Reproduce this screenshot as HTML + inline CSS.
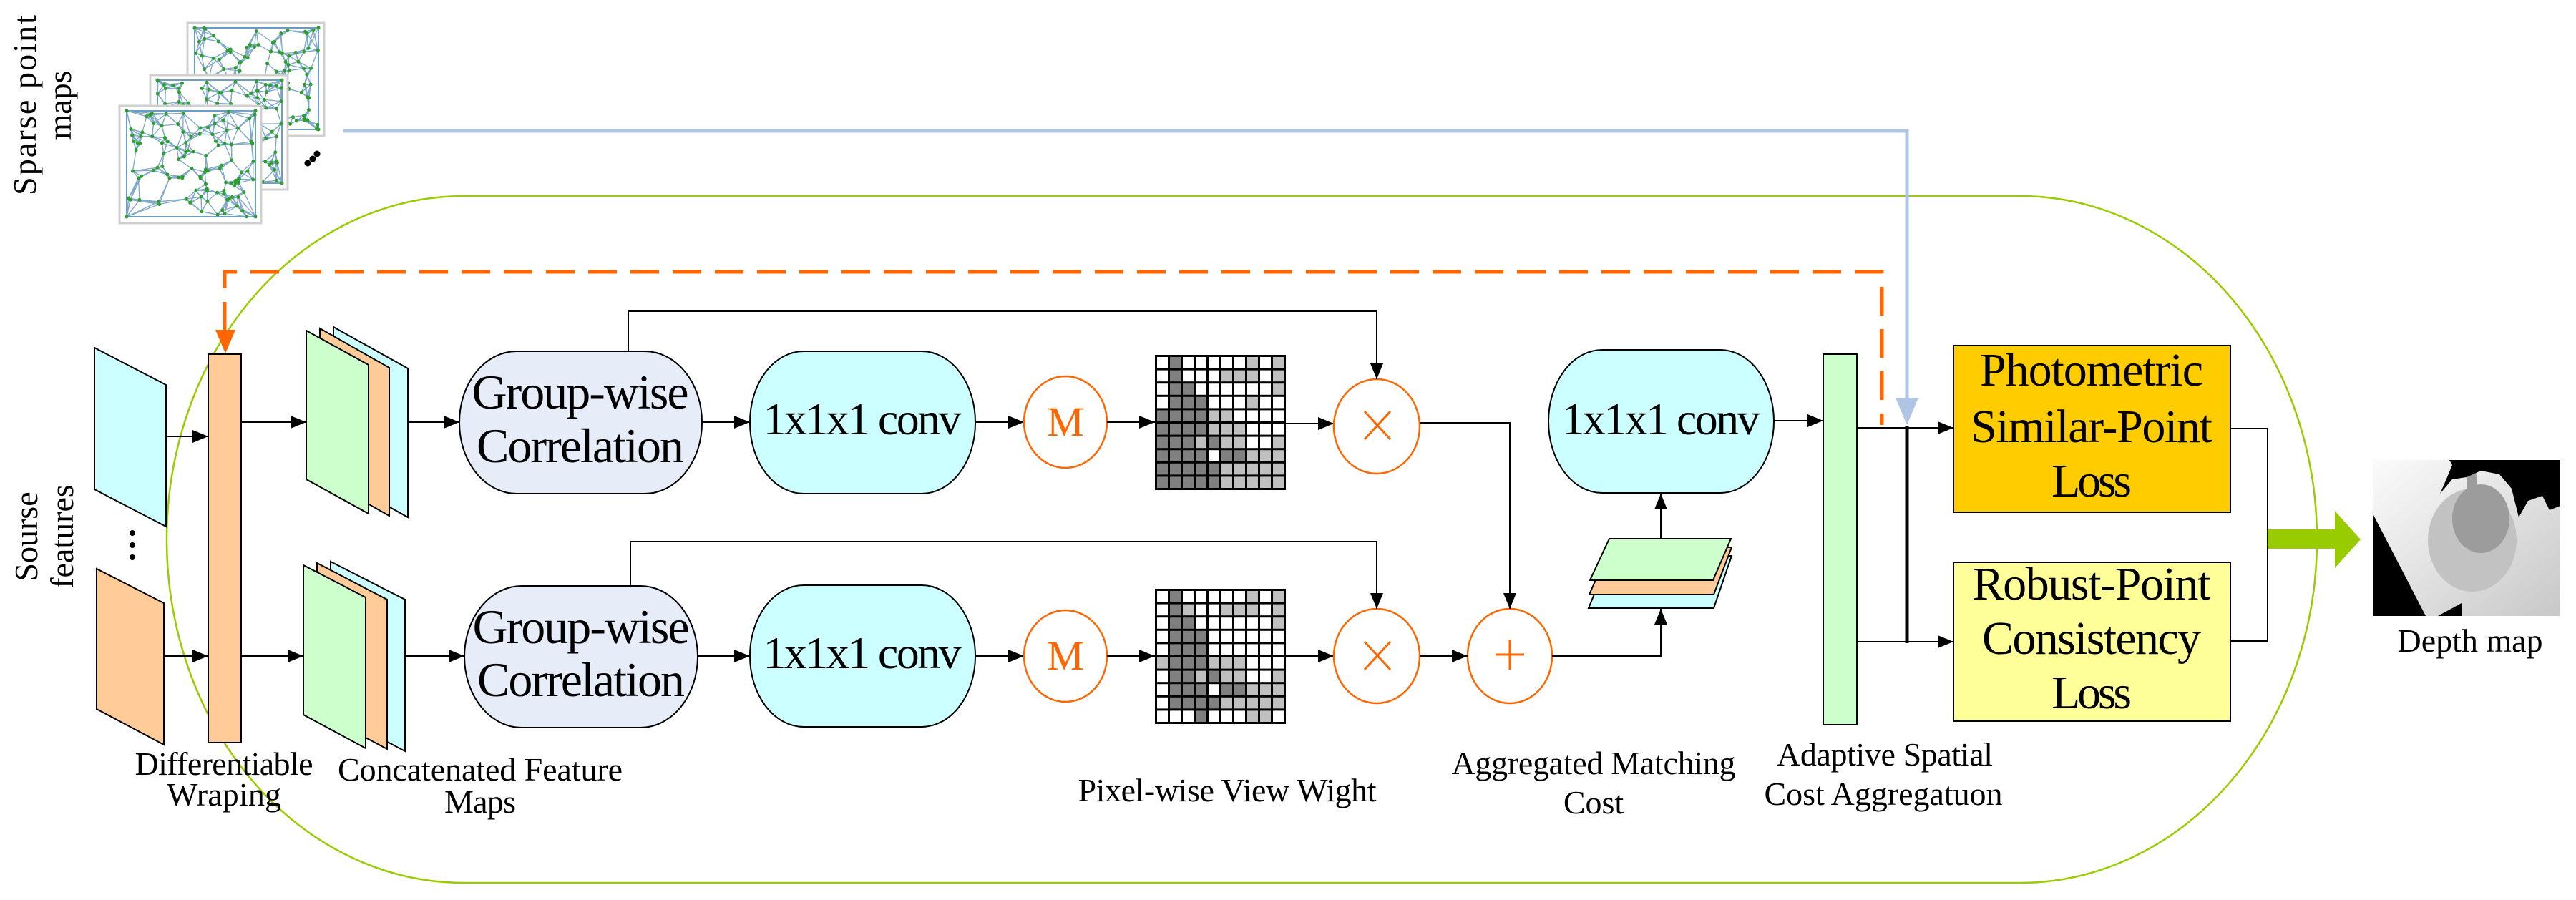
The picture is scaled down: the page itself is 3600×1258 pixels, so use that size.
<!DOCTYPE html>
<html><head><meta charset="utf-8"><style>
html,body{margin:0;padding:0;background:#fff;}
svg{display:block;font-family:"Liberation Serif","DejaVu Serif",serif;}
svg text{font-family:"Liberation Serif","DejaVu Serif",serif;fill:#000;}
</style></head><body>
<svg id="s" width="3600" height="1258" viewBox="0 0 3600 1258" xmlns="http://www.w3.org/2000/svg" font-family="Liberation Serif, DejaVu Serif, serif">
<defs>
<marker id="ar" markerWidth="22" markerHeight="18" refX="22" refY="9" orient="auto" markerUnits="userSpaceOnUse"><path d="M0,0 L22,9 L0,18 z" fill="#000"/></marker>
<linearGradient id="dg" x1="0" y1="0" x2="1" y2="1"><stop offset="0" stop-color="#fbfbfb"/><stop offset="1" stop-color="#c8c8c8"/></linearGradient>
</defs>

<rect x="233" y="274" width="3005" height="960" rx="415" ry="480" fill="none" stroke="#99cc00" stroke-width="2.5"/>

<g id="pm"></g>
<circle cx="430" cy="228" r="4.5" fill="#000"/><circle cx="437" cy="222" r="4.5" fill="#000"/><circle cx="443" cy="215" r="4.5" fill="#000"/>

<text transform="translate(50,147) rotate(-90)" font-size="46" text-anchor="middle" textLength="252">Sparse point</text>
<text transform="translate(99,147) rotate(-90)" font-size="46" text-anchor="middle">maps</text>
<text transform="translate(52,750) rotate(-90)" font-size="46" text-anchor="middle">Sourse</text>
<text transform="translate(102,750) rotate(-90)" font-size="46" text-anchor="middle">features</text>

<polyline points="479,183 2665,183 2665,560" fill="none" stroke="#b0c4e4" stroke-width="5"/>
<path d="M2649,556 L2681,556 L2665,594 z" fill="#b0c4e4"/>

<polyline points="314,462 314,380 2630,380 2630,594" fill="none" stroke="#ff6600" stroke-width="5" stroke-dasharray="40,19"/>
<path d="M301,461 L329,461 L315,494 z" fill="#ff6600"/>

<polygon points="132,486 232,538 232,736 132,684" fill="#ccffff" stroke="#000" stroke-width="2"/>
<polygon points="135,795 229,843 229,1041 135,991" fill="#ffcc99" stroke="#000" stroke-width="2"/>
<circle cx="185" cy="745" r="4" fill="#000"/><circle cx="185" cy="762" r="4" fill="#000"/><circle cx="185" cy="779" r="4" fill="#000"/>

<rect x="291" y="495" width="46" height="543" fill="#ffcc99" stroke="#000" stroke-width="2"/>
<line x1="232" y1="610" x2="291" y2="610" stroke="#000" stroke-width="2" marker-end="url(#ar)"/>
<line x1="229" y1="917" x2="291" y2="917" stroke="#000" stroke-width="2" marker-end="url(#ar)"/>
<line x1="337" y1="590" x2="428" y2="590" stroke="#000" stroke-width="2" marker-end="url(#ar)"/>
<line x1="337" y1="917" x2="424" y2="917" stroke="#000" stroke-width="2" marker-end="url(#ar)"/>

<g stroke="#000" stroke-width="2">
<polygon points="466,457 570,515 570,723 466,665" fill="#ccffff"/>
<polygon points="447,459 544,514 544,721 447,666" fill="#ffcc99"/>
<polygon points="428,462 515,510 515,718 428,670" fill="#ccffcc"/>
<polygon points="462,785 566,838 566,1050 462,995" fill="#ccffff"/>
<polygon points="443,787 541,838 541,1047 443,995" fill="#ffcc99"/>
<polygon points="424,790 511,835 511,1046 424,999" fill="#ccffcc"/>
</g>
<line x1="570" y1="590" x2="642" y2="590" stroke="#000" stroke-width="2" marker-end="url(#ar)"/>
<line x1="566" y1="917" x2="649" y2="917" stroke="#000" stroke-width="2" marker-end="url(#ar)"/>

<rect x="642" y="491" width="339" height="199" rx="80" ry="99" fill="#e6edf8" stroke="#000" stroke-width="2"/>
<rect x="649" y="819" width="326" height="198" rx="80" ry="99" fill="#e6edf8" stroke="#000" stroke-width="2"/>
<text x="811" y="571" font-size="68" text-anchor="middle" textLength="303">Group-wise</text>
<text x="811" y="646" font-size="68" text-anchor="middle" textLength="290">Correlation</text>
<text x="812" y="899" font-size="68" text-anchor="middle" textLength="303">Group-wise</text>
<text x="812" y="973" font-size="68" text-anchor="middle" textLength="290">Correlation</text>

<line x1="981" y1="590" x2="1048" y2="590" stroke="#000" stroke-width="2" marker-end="url(#ar)"/>
<line x1="975" y1="917" x2="1048" y2="917" stroke="#000" stroke-width="2" marker-end="url(#ar)"/>

<rect x="1048" y="491" width="315" height="199" rx="75" ry="99" fill="#ccffff" stroke="#000" stroke-width="2"/>
<rect x="1048" y="818" width="315" height="198" rx="75" ry="99" fill="#ccffff" stroke="#000" stroke-width="2"/>
<text x="1205" y="607" font-size="64" text-anchor="middle" textLength="277">1x1x1 conv</text>
<text x="1205" y="934" font-size="64" text-anchor="middle" textLength="277">1x1x1 conv</text>
<rect x="2164" y="489" width="315" height="200" rx="75" ry="100" fill="#ccffff" stroke="#000" stroke-width="2"/>
<text x="2321" y="607" font-size="64" text-anchor="middle" textLength="277">1x1x1 conv</text>

<line x1="1363" y1="590" x2="1431" y2="590" stroke="#000" stroke-width="2" marker-end="url(#ar)"/>
<line x1="1363" y1="917" x2="1431" y2="917" stroke="#000" stroke-width="2" marker-end="url(#ar)"/>
<ellipse cx="1489" cy="590" rx="58" ry="64" fill="#fff" stroke="#ff6600" stroke-width="2.5"/>
<ellipse cx="1489" cy="917" rx="58" ry="64" fill="#fff" stroke="#ff6600" stroke-width="2.5"/>
<text x="1489" y="609" font-size="58" text-anchor="middle" style="fill:#ff6600">M</text>
<text x="1489" y="936" font-size="58" text-anchor="middle" style="fill:#ff6600">M</text>
<line x1="1547" y1="590" x2="1614" y2="590" stroke="#000" stroke-width="2" marker-end="url(#ar)"/>
<line x1="1547" y1="917" x2="1614" y2="917" stroke="#000" stroke-width="2" marker-end="url(#ar)"/>

<g id="grids"></g>
<line x1="1797" y1="592" x2="1864" y2="592" stroke="#000" stroke-width="2" marker-end="url(#ar)"/>
<line x1="1797" y1="917" x2="1864" y2="917" stroke="#000" stroke-width="2" marker-end="url(#ar)"/>

<ellipse cx="1924" cy="596" rx="60" ry="66" fill="#fff" stroke="#ff6600" stroke-width="2.5"/>
<ellipse cx="1924" cy="917" rx="60" ry="66" fill="#fff" stroke="#ff6600" stroke-width="2.5"/>
<g stroke="#ff6600" stroke-width="3">
<line x1="1907" y1="575" x2="1943" y2="614"/><line x1="1943" y1="575" x2="1907" y2="614"/>
<line x1="1907" y1="897" x2="1943" y2="936"/><line x1="1943" y1="897" x2="1907" y2="936"/>
</g>
<polyline points="878,491 878,435 1924,435 1924,530" fill="none" stroke="#000" stroke-width="2" marker-end="url(#ar)"/>
<polyline points="881,819 881,757 1924,757 1924,851" fill="none" stroke="#000" stroke-width="2" marker-end="url(#ar)"/>

<ellipse cx="2110" cy="917" rx="59" ry="66" fill="#fff" stroke="#ff6600" stroke-width="2.5"/>
<g stroke="#ff6600" stroke-width="3"><line x1="2090" y1="915" x2="2130" y2="915"/><line x1="2110" y1="894" x2="2110" y2="936"/></g>
<polyline points="1984,591 2110,591 2110,851" fill="none" stroke="#000" stroke-width="2" marker-end="url(#ar)"/>
<line x1="1984" y1="917" x2="2051" y2="917" stroke="#000" stroke-width="2" marker-end="url(#ar)"/>
<polyline points="2169,917 2321,917 2321,851" fill="none" stroke="#000" stroke-width="2" marker-end="url(#ar)"/>

<g stroke="#000" stroke-width="2">
<polygon points="2250,777 2420,777 2395,850 2220,850" fill="#ccffff"/>
<polygon points="2250,765 2420,765 2395,831 2221,831" fill="#ffcc99"/>
<polygon points="2249,753 2419,753 2394,811 2222,811" fill="#ccffcc"/>
</g>
<line x1="2321" y1="753" x2="2321" y2="690" stroke="#000" stroke-width="2" marker-end="url(#ar)"/>

<line x1="2479" y1="588" x2="2548" y2="588" stroke="#000" stroke-width="2" marker-end="url(#ar)"/>
<rect x="2548" y="495" width="47" height="518" fill="#ccffcc" stroke="#000" stroke-width="2"/>
<line x1="2595" y1="598" x2="2730" y2="598" stroke="#000" stroke-width="2" marker-end="url(#ar)"/>
<line x1="2595" y1="897" x2="2730" y2="897" stroke="#000" stroke-width="2" marker-end="url(#ar)"/>
<line x1="2665" y1="596" x2="2665" y2="899" stroke="#000" stroke-width="5"/>

<rect x="2730" y="483" width="387" height="233" fill="#ffcc00" stroke="#000" stroke-width="2"/>
<rect x="2730" y="786" width="387" height="222" fill="#ffff99" stroke="#000" stroke-width="2"/>
<text x="2923" y="539" font-size="66" text-anchor="middle" textLength="312">Photometric</text>
<text x="2923" y="618" font-size="66" text-anchor="middle" textLength="338">Similar-Point</text>
<text x="2923" y="694" font-size="66" text-anchor="middle" textLength="112">Loss</text>
<text x="2923" y="838" font-size="66" text-anchor="middle" textLength="333">Robust-Point</text>
<text x="2923" y="914" font-size="66" text-anchor="middle" textLength="306">Consistency</text>
<text x="2923" y="990" font-size="66" text-anchor="middle" textLength="112">Loss</text>
<polyline points="3117,599 3169,599 3169,896 3117,896" fill="none" stroke="#000" stroke-width="2"/>

<polygon points="3169,740 3263,740 3263,714 3299,754 3263,794 3263,767 3169,767" fill="#99cc00"/>

<rect x="3316" y="643" width="262" height="218" fill="url(#dg)"/>
<ellipse cx="3455" cy="755" rx="62" ry="72" fill="#c2c2c2"/>
<ellipse cx="3467" cy="725" rx="40" ry="48" fill="#9c9c9c"/>
<polygon points="3446,643 3460,643 3462,700 3448,700" fill="#9c9c9c"/>
<polygon points="3316,718 3390,861 3316,861" fill="#000"/>
<polygon points="3407,861 3440,843 3440,861" fill="#000"/>
<polygon points="3423,643 3578,643 3578,707 3563,713 3553,693 3533,700 3520,723 3510,683 3493,663 3467,658 3447,667 3427,670 3410,690 3420,667 3427,650" fill="#000"/>

<text x="313" y="1083" font-size="46" text-anchor="middle" textLength="249">Differentiable</text>
<text x="313" y="1126" font-size="46" text-anchor="middle" textLength="160">Wraping</text>
<text x="671" y="1091" font-size="46" text-anchor="middle" textLength="398">Concatenated Feature</text>
<text x="671" y="1136" font-size="46" text-anchor="middle" textLength="100">Maps</text>
<text x="1715" y="1120" font-size="46" text-anchor="middle" textLength="417">Pixel-wise View Wight</text>
<text x="2227" y="1082" font-size="46" text-anchor="middle" textLength="397">Aggregated Matching</text>
<text x="2227" y="1137" font-size="46" text-anchor="middle">Cost</text>
<text x="2634" y="1070" font-size="46" text-anchor="middle" textLength="302">Adaptive Spatial</text>
<text x="2632" y="1125" font-size="46" text-anchor="middle" textLength="333">Cost Aggregatuon</text>
<text x="3452" y="911" font-size="46" text-anchor="middle" textLength="203">Depth map</text>
</svg>
<script>
(function(){
var NS="http://www.w3.org/2000/svg";
function el(p,t,a){var e=document.createElementNS(NS,t);for(var k in a)e.setAttribute(k,a[k]);p.appendChild(e);return e;}
var G=document.getElementById("grids");
var g1=["WDWWWWWLWL","WDWWWLLLWL","WDDWWWWWWL","WDDDWWWLWW","DDDDLLWWWW","DDDDLLLWWW","DDDLDLLWWL","DDDDWDDLLL","DDDDDLLLLL","DDDDDLLLLL"];
var g2=["WDWWWWWLWL","WDLWWLLLWL","WDDWWWWWWL","WDDDWWWWWW","WDDDWWWWWW","LDDDLLLWWW","WDDLDLLWWL","WDDDWDDLLL","WDDDDLLLLL","WWWDWWWLLW"];
var col={W:"#fff",D:"#808080",L:"#c0c0c0"};
function grid(x0,y0,p){var w=183,h=189;el(G,"rect",{x:x0,y:y0,width:w,height:h,fill:"#000"});
var cw=(w-3)/10,ch=(h-3)/10;for(var r=0;r<10;r++)for(var c=0;c<10;c++)el(G,"rect",{x:x0+3+c*cw,y:y0+3+r*ch,width:cw-3,height:ch-3,fill:col[p[r][c]]});}
grid(1614,496,g1);grid(1614,823,g2);
var P=document.getElementById("pm");var seed=7;function rnd(){seed=(seed*16807)%2147483647;return seed/2147483647;}
function card(x0,y0,x1,y1){el(P,"rect",{x:x0,y:y0,width:x1-x0,height:y1-y0,fill:"#fff",stroke:"#d0d0d0","stroke-width":3});
var ix0=x0+10,iy0=y0+7,ix1=x1-8,iy1=y1-9;el(P,"rect",{x:ix0,y:iy0,width:ix1-ix0,height:iy1-iy0,fill:"none",stroke:"#6a9cc4","stroke-width":2});
var pts=[];for(var i=0;i<110;i++)pts.push([ix0+rnd()*(ix1-ix0),iy0+rnd()*(iy1-iy0)]);
pts.push([ix0,iy0],[ix1,iy0],[ix0,iy1],[ix1,iy1]);
for(var i=0;i<pts.length;i++){var d=[];for(var j=0;j<pts.length;j++)if(j!=i)d.push([Math.hypot(pts[i][0]-pts[j][0],pts[i][1]-pts[j][1]),j]);d.sort(function(a,b){return a[0]-b[0]});
for(var k=0;k<5;k++){var q=pts[d[k][1]];el(P,"line",{x1:pts[i][0],y1:pts[i][1],x2:q[0],y2:q[1],stroke:"#7fa8c9","stroke-width":1.3});}}
for(var i=0;i<pts.length;i++)el(P,"circle",{cx:pts[i][0],cy:pts[i][1],r:2.5,fill:"#2ca02c"});}
card(262,32,453,190);card(210,105,402,265);card(167,148,365,312);
})();
</script>
</body></html>
